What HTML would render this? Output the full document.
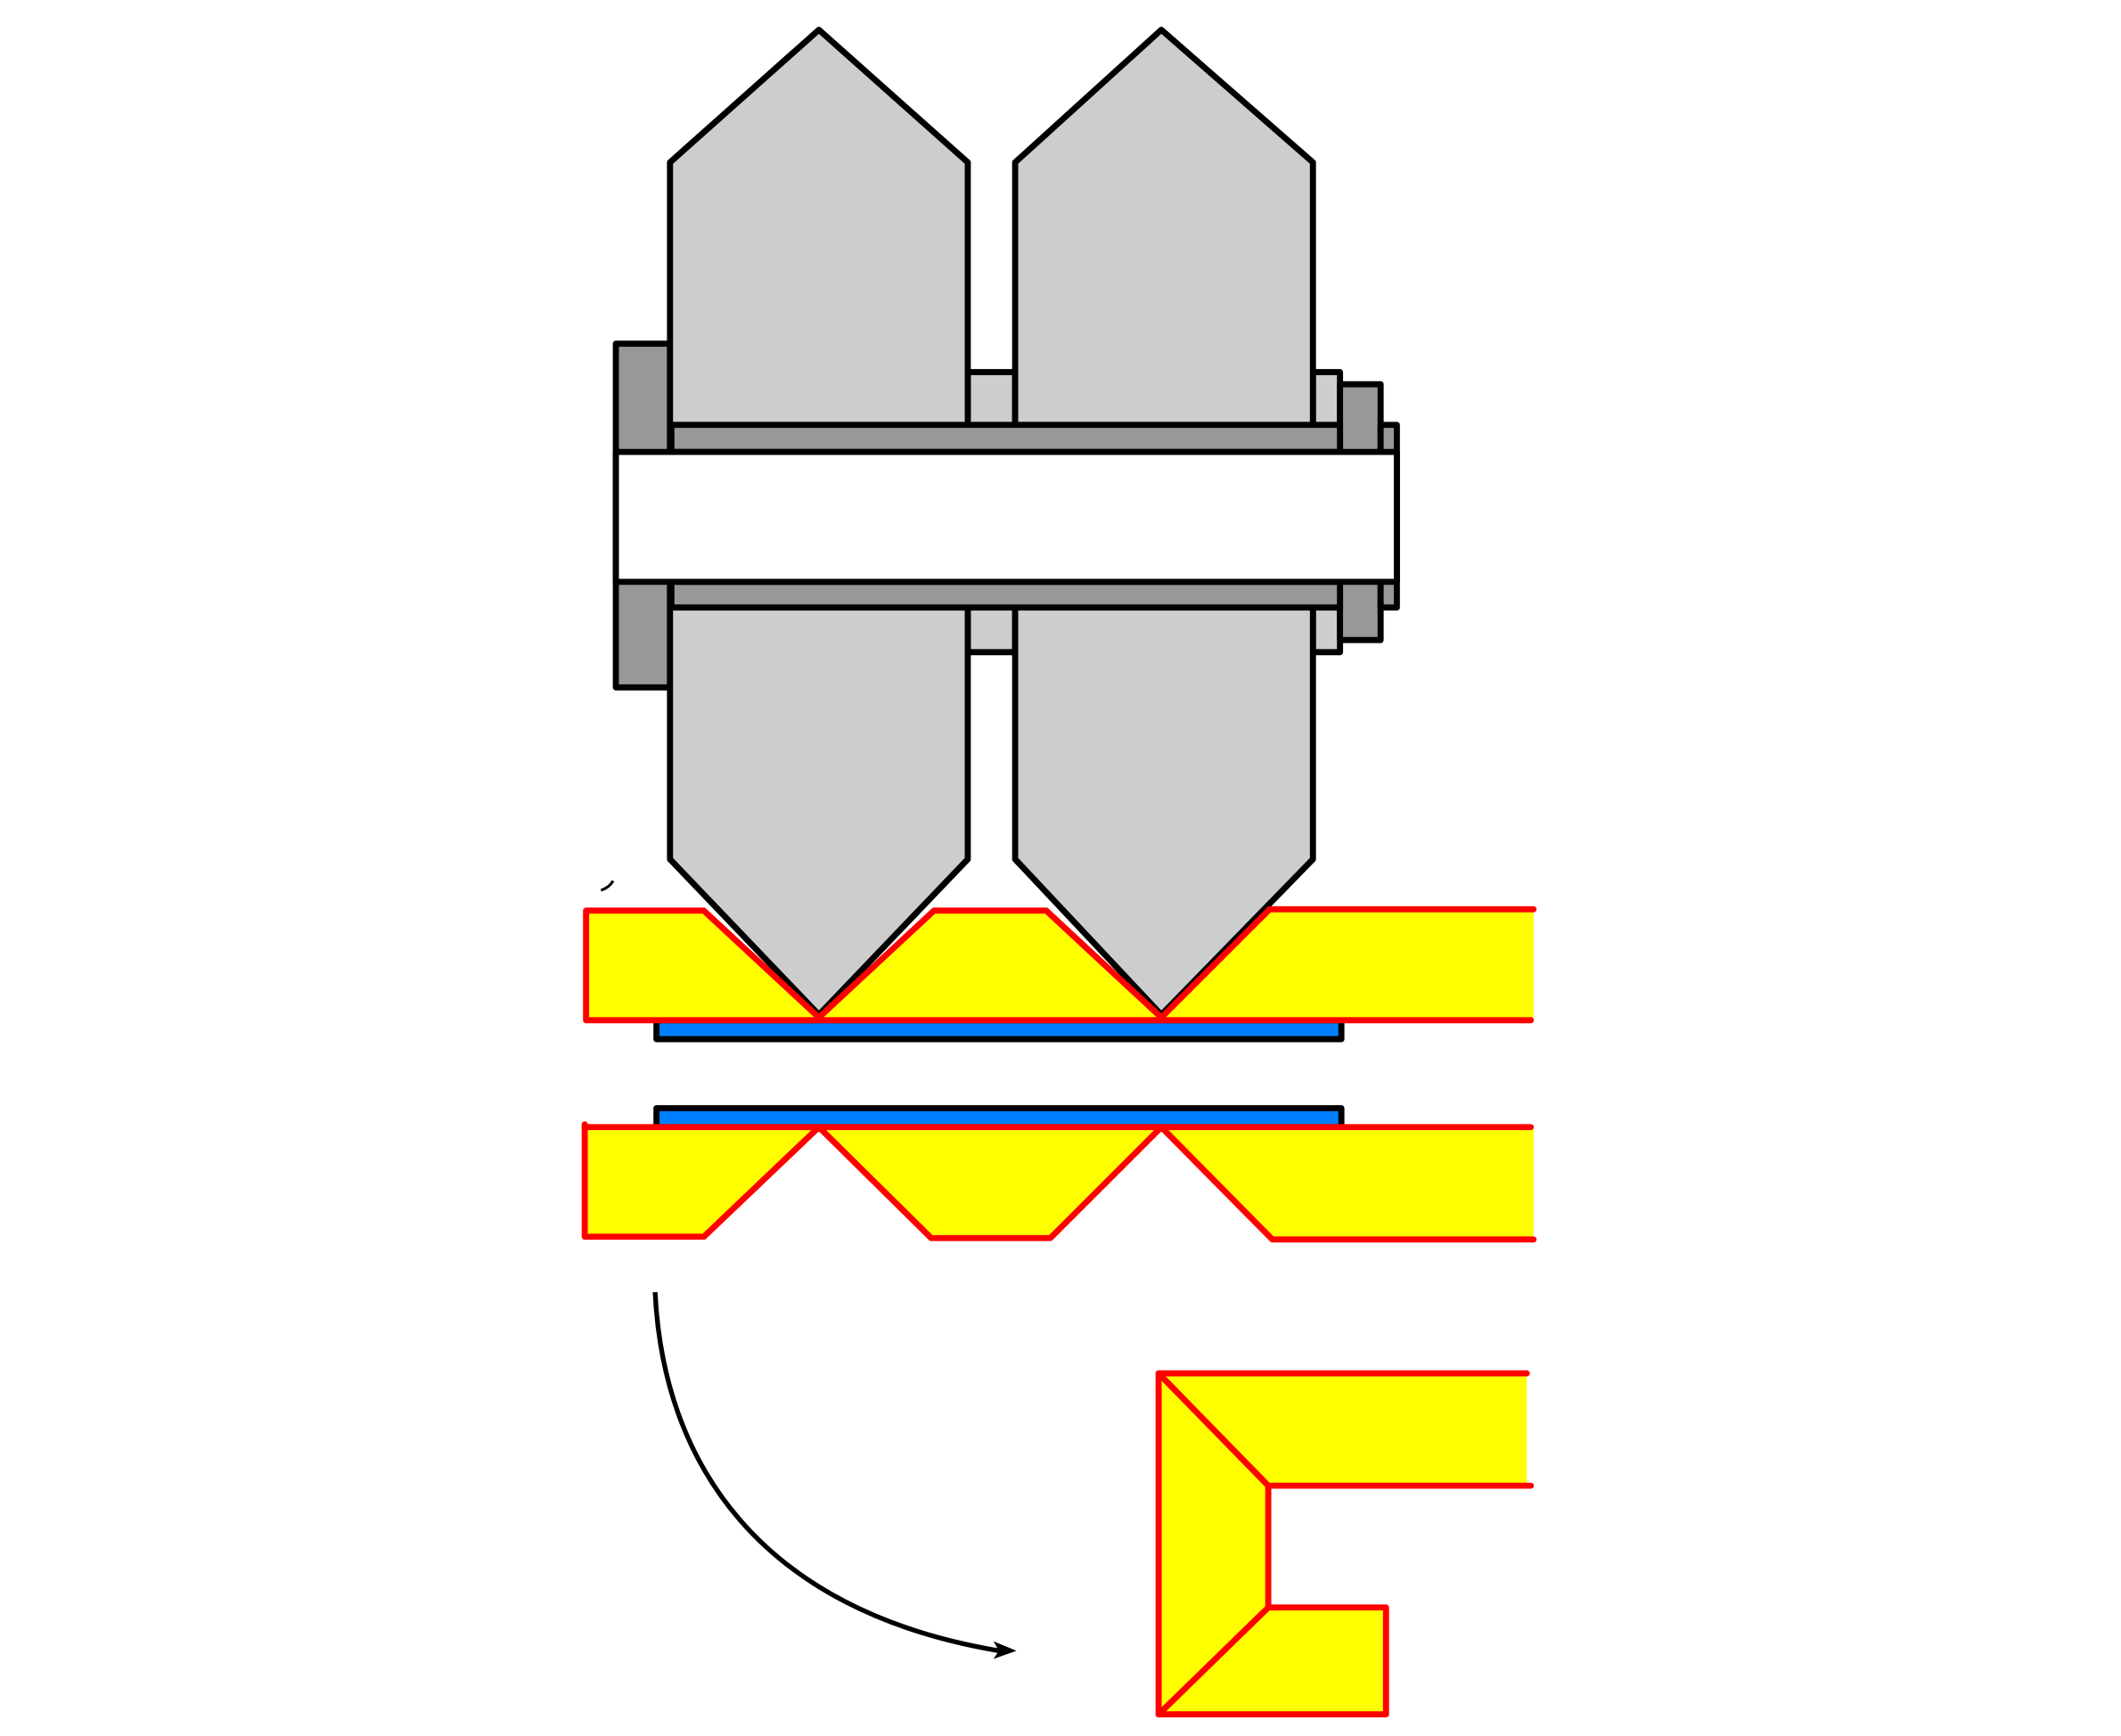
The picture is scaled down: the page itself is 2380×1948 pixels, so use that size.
<!DOCTYPE html>
<html><head><meta charset="utf-8"><style>
html,body{margin:0;padding:0;background:#fff;}
svg{display:block;}
</style></head><body>
<svg width="2380" height="1948" viewBox="0 0 1567 1283" preserveAspectRatio="none" xmlns="http://www.w3.org/2000/svg">
<g stroke="#000" stroke-width="4.5" stroke-linejoin="round">
  <rect x="455" y="254" width="40" height="254" fill="#989898"/>
  <rect x="715" y="275" width="35" height="207" fill="#cdcdcd"/>
  <rect x="970" y="275" width="20" height="207" fill="#cdcdcd"/>
  <rect x="990" y="284" width="30" height="189" fill="#989898"/>
  <rect x="1020" y="314" width="12" height="135" fill="#989898"/>
  <polygon points="495,120 605,22 715,120 715,635 605,750 495,635" fill="#cdcdcd"/>
  <polygon points="750,120 858,22 970,120 970,635 858,750 750,635" fill="#cdcdcd"/>
  <rect x="496" y="314" width="494" height="20" fill="#989898"/>
  <rect x="496" y="430" width="494" height="19" fill="#989898"/>
  <rect x="455" y="334" width="577" height="96" fill="#fff"/>
  <rect x="485" y="754" width="506" height="14" fill="#0080ff"/>
  <rect x="485" y="819" width="506" height="14" fill="#0080ff"/>
</g>
<g stroke="#ff0000" stroke-width="4.5" stroke-linejoin="round" stroke-linecap="round">
  <polygon points="433,673 520,673 605,752 690,673 773,673 858,752 938,672 1133,672 1133,754 433,754" fill="#ffff00" stroke="none"/>
  <polyline fill="none" points="433,754 433,673 520,673 605,752 690,673 773,673 858,752 938,672 1133,672"/>
  <line x1="433" y1="754" x2="1131" y2="754"/>
  <polygon points="433,833 1133,833 1133,916 940,916 858,833 776,915 688,915 605,833 520,914 433,914" fill="#ffff00" stroke="none"/>
  <line x1="432" y1="833" x2="1131" y2="833"/>
  <polyline fill="none" points="432,831 432,914 520,914 605,833 688,915 776,915 858,833 940,916 1133,916"/>
  <polygon points="856,1015 1128,1015 1128,1098 937,1098 937,1188 1024,1188 1024,1267 856,1267" fill="#ffff00" stroke="none"/>
  <polyline fill="none" points="1128,1015 856,1015 856,1267 1024,1267 1024,1188 937,1188 937,1098 1131,1098"/>
  <line x1="856" y1="1015" x2="937" y2="1098"/>
  <line x1="937" y1="1188" x2="856" y2="1267"/>
</g>
<path d="M484 955 C 490 1080, 560 1190, 738 1220" fill="none" stroke="#000" stroke-width="3.5"/>
<polygon points="734,1213 751,1220 734,1226 738,1220" fill="#000"/>
<path d="M444 658 Q450 656 453 651" fill="none" stroke="#000" stroke-width="2"/>
</svg>
</body></html>
